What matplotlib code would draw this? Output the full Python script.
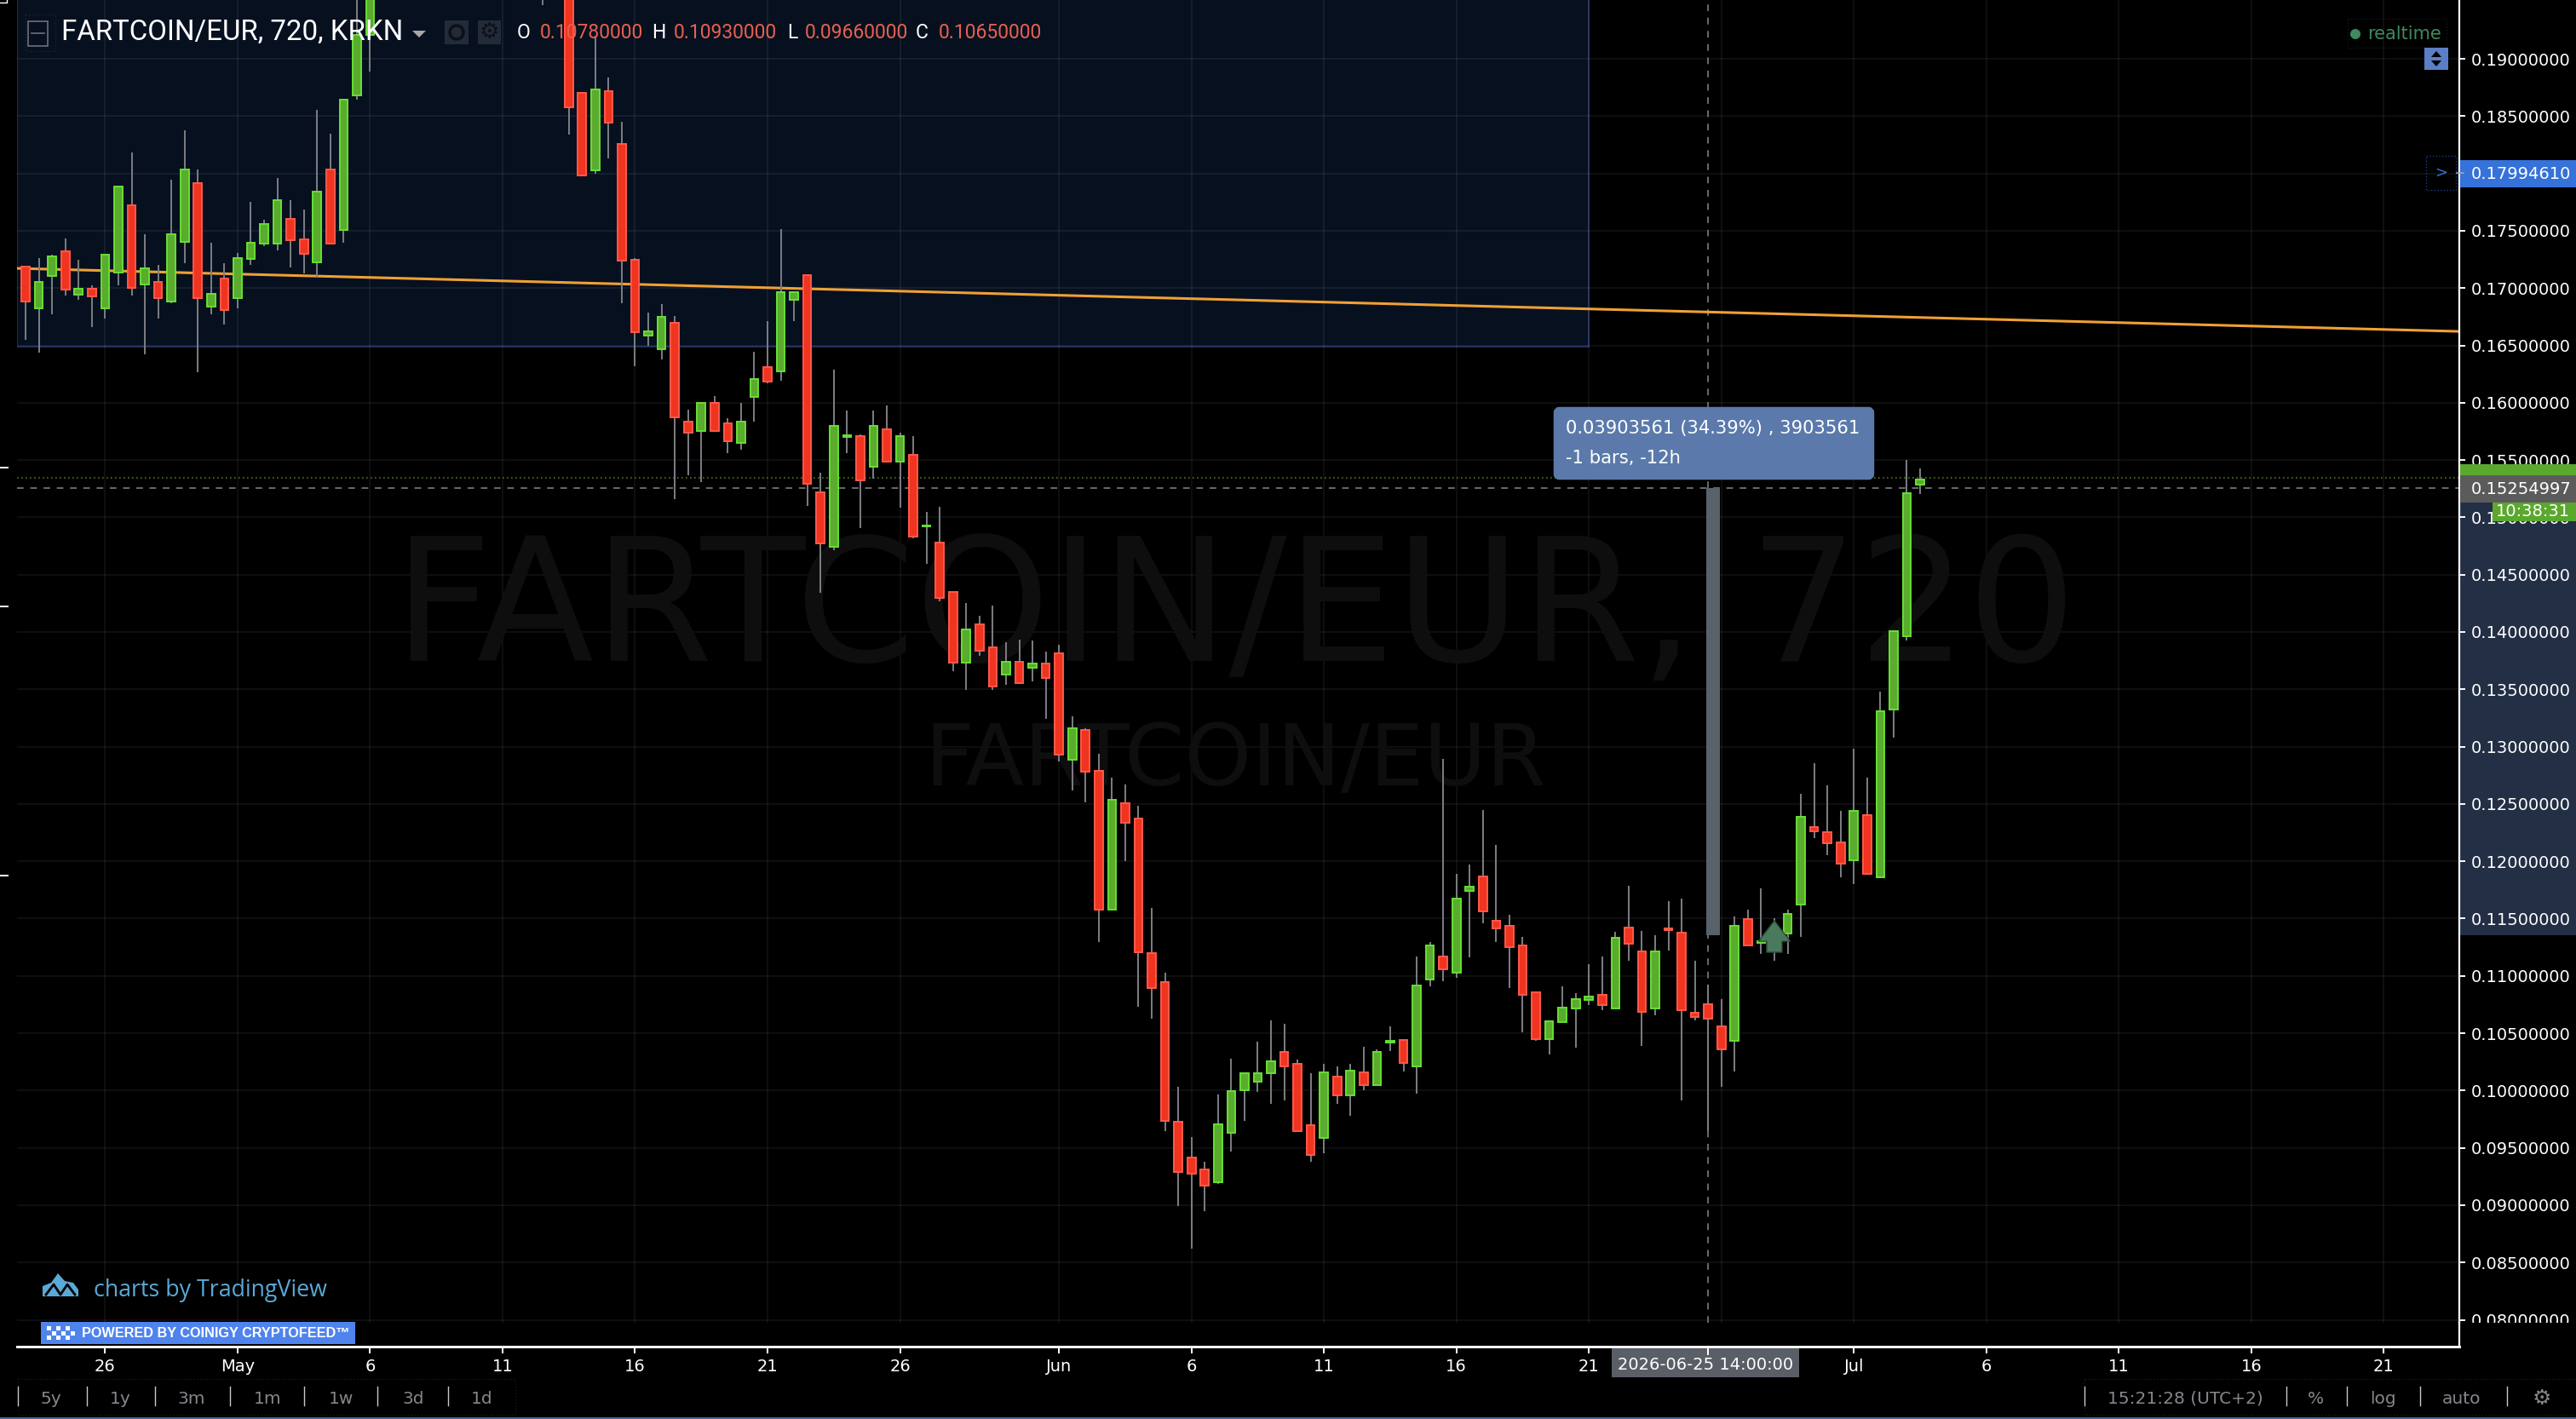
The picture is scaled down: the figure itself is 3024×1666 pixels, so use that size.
import matplotlib
matplotlib.use('Agg')
import numpy as np
import matplotlib.pyplot as plt
from matplotlib.patches import Rectangle, Polygon, FancyBboxPatch

# Bars are 12h apart, counted from 1 May. Bars 11..22 and 24 are above the visible range.
bar_idx = list(range(-16, 11)) + [23] + list(range(25, 128))

opens = [
    .17184, .16823, .17106, .17322, .1694, .16995, .16823, .17137, .17722, .17029,
    .17054, .16881, .17402, .17916, .16838, .17085, .16912, .17254, .17387, .17387,
    .17602, .17427, .17223, .18033, .17507, .1868, .19209,
    .2,
    .197, .18701, .18027, .18717, .18258, .17248, .16586, .16466, .16697, .15835,
    .15752, .15998, .1582, .1565, .16053, .16312, .16272, .16897, .17113, .15216,
    .14742, .15705, .15708, .15443, .15768, .15488, .15543, .14921, .1478, .14348,
    .13732, .14064, .13869, .13628, .13737, .13689, .13723, .13813, .12884, .13144,
    .12789, .11575, .12504, .12372, .11196, .10945, .09727, .09414, .0931, .09201,
    .09632, .10002, .10078, .10149, .1034, .10234, .097, .09587, .10118, .09959,
    .10161, .10048, .10416, .10443, .10214, .1097, .11172, .1103, .11743, .11869,
    .11484, .11437, .11262, .1086, .10449, .10599, .10718, .10791, .10831, .10718,
    .11424, .11215, .10718, .11413, .11378, .10681, .10754, .10562, .10436, .11497,
    .11285, .1125, .11371, .11623, .123, .12256, .12167, .12011, .12406, .11862,
    .13321, .13961, .15284,
]
highs = [
    .17184, .17261, .17291, .1743, .1725, .17026, .17291, .17886, .18184, .17473,
    .17205, .17947, .18378, .18036, .17399, .1722, .17309, .17753, .17593, .17959,
    .17768, .17682, .18553, .18347, .18643, .196, .198,
    .203,
    .198, .18714, .192, .18837, .18449, .17261, .16786, .16863, .16758, .15942,
    .15998, .1606, .15866, .15998, .16444, .16712, .17516, .16965, .17113, .15386,
    .16288, .15931, .15723, .15931, .15976, .15738, .15708, .1505, .15092, .14348,
    .14249, .1414, .1423, .13907, .13936, .13922, .13832, .13888, .13267, .13163,
    .1294, .12732, .1267, .12481, .1159, .1103, .10035, .09594, .09381, .09964,
    .10281, .10153, .10424, .10608, .10582, .10267, .10151, .10234, .10211, .10234,
    .10383, .10356, .10562, .10443, .11172, .11292, .12893, .11888, .11975, .12449,
    .1214, .1153, .11338, .1086, .10605, .10907, .10847, .11099, .11172, .11381,
    .11782, .11394, .11351, .1165, .11676, .1113, .10924, .108, .11517, .11577,
    .11766, .115, .11577, .12585, .12853, .12661, .12439, .12983, .12731, .13477,
    .1401, .155, .15424,
]
lows = [
    .16552, .16435, .16774, .16937, .16894, .1666, .16731, .17026, .16937, .1642,
    .16731, .16866, .1722, .16269, .16774, .16685, .1682, .17205, .17368, .17325,
    .17178, .17131, .17091, .17387, .17399, .18646, .18886,
    .1947,
    .18338, .17984, .17996, .18129, .16866, .16318, .16497, .16377, .15157, .15364,
    .15308, .15752, .15558, .15588, .15838, .16167, .16195, .16715, .15096, .14343,
    .14713, .15562, .14908, .15339, .15488, .15087, .14817, .14595, .14268, .13656,
    .13495, .13794, .13495, .13538, .13552, .13571, .13244, .12869, .12618, .12514,
    .11296, .11575, .12, .10732, .10627, .09646, .08992, .08618, .08945, .09182,
    .09466, .09736, .09987, .09883, .09912, .09647, .09382, .09451, .09886, .09783,
    .10002, .10048, .10343, .10167, .09975, .10907, .10953, .1098, .11162, .11457,
    .11295, .10897, .10509, .10433, .10317, .10599, .10376, .10748, .10698, .10718,
    .1113, .1039, .10655, .11219, .09912, .10608, .09643, .10035, .10167, .11268,
    .11192, .1113, .11192, .11338, .122, .12051, .11859, .11802, .11892, .11862,
    .13078, .13923, .15201,
]
closes = [
    .16885, .17054, .17276, .16989, .16995, .16928, .17291, .17886, .17002, .17174,
    .16912, .1747, .18033, .16912, .16949, .16808, .17261, .17396, .17559, .17768,
    .1742, .17297, .17843, .17387, .18643, .19209, .197,
    .199,
    .18575, .17984, .18732, .18443, .17239, .16614, .16623, .16752, .15872, .15739,
    .15998, .15752, .15662, .15835, .16207, .16183, .16965, .16965, .15296, .14775,
    .15798, .15719, .15325, .15798, .15488, .15708, .14832, .14931, .14296, .13732,
    .14021, .13836, .13523, .13737, .13552, .13727, .13599, .12931, .13158, .12779,
    .11575, .12533, .12334, .11206, .10893, .09736, .09286, .09272, .09167, .09708,
    .09992, .10153, .10153, .10258, .10214, .09647, .09441, .10161, .09959, .10177,
    .10048, .1034, .10436, .1024, .1092, .11262, .11059, .11676, .11779, .11563,
    .11414, .11252, .10837, .10449, .10605, .10725, .10801, .10817, .10748, .11335,
    .11282, .10688, .11215, .11403, .10701, .10642, .10628, .1036, .11437, .11268,
    .11305, .1141, .11544, .12389, .12263, .12157, .11981, .12436, .11892, .13311,
    .1401, .15212, .15329,
]

# Axis ticks
date_ticks = [-10, 0, 10, 20, 30, 40, 50, 62, 72, 82, 92, 102, 112, 122, 132, 142, 152, 162]
date_labels = ['26', 'May', '6', '11', '16', '21', '26', 'Jun', '6', '11', '16', '21', '26',
               'Jul', '6', '11', '16', '21']
price_ticks = [0.08 + 0.005 * i for i in range(23)]

# Drawings and price lines
zone_top, zone_bottom, zone_end = 0.2, 0.16489, 102
trend_x, trend_y = [-16.65, 167.7], [0.17172, 0.16622]
cross_bar, cross_price = 111, 0.15254997
last_price = 0.15347
measure_change = 0.03903561
arrow_bar = 116

fig = plt.figure(figsize=(30.24, 16.66), dpi=100, facecolor='black')
ax = fig.add_axes([20 / 3024, 1 - 1553 / 1666, 2867 / 3024, 1553 / 1666], facecolor='black')
ax.set_xlim(-16.65, 167.7)
ax.set_ylim(0.07974, 0.19513)
ax.set_axisbelow(True)

x = np.array(bar_idx)
o, h, l, c = map(np.array, (opens, highs, lows, closes))
up = c >= o

# Blue zone and the navy part of the price scale, both under the axis artist
ax.add_patch(Rectangle((-16.65, zone_bottom), zone_end + 16.65, zone_top - zone_bottom,
                       fc='#07101f', ec='#1c2a55', lw=1.5, zorder=0.1))
ax.add_patch(Rectangle((1, cross_price - measure_change), 0.06, measure_change,
                       transform=ax.get_yaxis_transform(), fc='#232f45', ec='none',
                       clip_on=False, zorder=0.2))

ax.grid(True, color='#ffffff', alpha=0.06, lw=1.5)

# Watermarks
ax.text(75.3, 0.1416, 'FARTCOIN/EUR, 720', color='#0e0e0e', fontsize=145,
        ha='center', va='center', zorder=0.6)
ax.text(75.3, 0.1287, 'FARTCOIN/EUR', color='#0e0e0e', fontsize=72.3,
        ha='center', va='center', zorder=0.6)

# Price lines and crosshair
ax.axhline(last_price, color='#4c7a1e', lw=1.2, ls=(0, (1, 2)), zorder=1)
ax.axhline(cross_price, color='#6a6a6a', lw=1.4, ls=(0, (4, 4)), zorder=1)
ax.axvline(cross_bar, color='#6a6a6a', lw=1.4, ls=(0, (4, 4)), zorder=1)

ax.plot(trend_x, trend_y, color='#f0a035', lw=2.2, zorder=1.5)

# Candles
ax.vlines(x, l, h, color='#7d7f84', lw=1.4, zorder=2)
ax.bar(x[up], (c - o)[up], bottom=o[up], width=0.62, color='#5aab2e', edgecolor='#66e034',
       lw=1.4, zorder=3)
ax.bar(x[~up], (o - c)[~up], bottom=c[~up], width=0.62, color='#f0341f', edgecolor='#ff5a4c',
       lw=1.4, zorder=3)

# Measure tool bar
ax.add_patch(Rectangle((cross_bar - 0.12, cross_price - measure_change), 1.03, measure_change,
                       fc='#59626a', ec='none', zorder=4))

# Arrow mark on the bar
ax.add_patch(Polygon([(arrow_bar, 0.11481), (arrow_bar + 1.2, 0.11302), (arrow_bar + 0.58, 0.11302),
                      (arrow_bar + 0.58, 0.11206), (arrow_bar - 0.58, 0.11206),
                      (arrow_bar - 0.58, 0.11302), (arrow_bar - 1.2, 0.11302)],
                     fc='#4a7a5c', ec='#2c4a38', lw=1, zorder=4))

# Scales
ax.yaxis.tick_right()
ax.set_yticks(price_ticks)
ax.set_yticklabels(['%.8f' % p for p in price_ticks])
ax.set_xticks(date_ticks)
ax.set_xticklabels(date_labels)
ax.tick_params(axis='y', colors='white', length=5, width=1.4, pad=5, labelsize=14)
ax.tick_params(axis='x', colors='white', length=6, width=1.4, pad=4, labelsize=14)
for name in ['top', 'left']:
    ax.spines[name].set_visible(False)
ax.spines['right'].set_color('white')
ax.spines['right'].set_linewidth(1.6)
ax.spines['bottom'].set_color('white')
ax.spines['bottom'].set_linewidth(2)
ax.spines['bottom'].set_position(('outward', 20))

# Everything below is the chart's UI, laid out in screen pixels
ov = fig.add_axes([0, 0, 1, 1], facecolor='none')
ov.set_xlim(0, 3024)
ov.set_ylim(1666, 0)
ov.axis('off')


def box(x0, y0, x1, y1, fc='none', ec='none', lw=1.0, ls='-'):
    ov.add_patch(Rectangle((x0, y0), x1 - x0, y1 - y0, fc=fc, ec=ec, lw=lw, ls=ls))


def label(x0, y0, s, color='white', size=14, ha='left', **kw):
    ov.text(x0, y0, s, color=color, fontsize=size, ha=ha, va='center', **kw)


# The 0.08 label is cut off by the end of the pane, the axis line goes on
box(2889, 1553, 3024, 1581, fc='black')
ov.plot([2887, 2887], [1553, 1581], color='white', lw=1.6)
ov.plot([20, 2887], [1581, 1581], color='white', lw=2)

# Left edge ticks and corner
for y0 in [549, 712, 1028]:
    ov.plot([0, 9], [y0, y0], color='white', lw=1.4)
ov.plot([0, 8, 8], [3, 3, 0], color='white', lw=1)

# Header
box(30, 17, 65, 60, ec='#20242c', lw=1, ls=':')
box(33, 25, 56, 54, ec='#6d7178', lw=1.2)
ov.plot([37, 52], [39, 39], color='#6d7178', lw=1.2)
label(72, 38, 'FARTCOIN/EUR, 720, KRKN', size=23.8, family='Roboto')
ov.add_patch(Polygon([(484, 36), (500, 36), (492, 44)], fc='#a8a8a8', ec='none'))
box(522, 24, 550, 52, fc='#232a38')
box(561, 24, 588, 52, fc='#232a38')
ov.add_patch(plt.Circle((536, 38), 8, fc='none', ec='#0b101a', lw=2.5))
label(574.5, 38, '\u2699', color='#0b101a', size=19, ha='center', family='DejaVu Sans')
hdr = [(607, 'O', 634, '0.10780000'), (765, 'H', 791, '0.10930000'),
       (924, 'L', 945, '0.09660000'), (1075, 'C', 1102, '0.10650000')]
for x_k, k, x_v, v in hdr:
    label(x_k, 38, k, size=16.5, family='Roboto')
    label(x_v, 38, v, color='#e8604f', size=16.5, family='Roboto')

# Realtime badge and its neighbours
box(2756, 22, 2872, 56, ec='#16181c', lw=1, ls=':')
ov.add_patch(plt.Circle((2765, 40), 6, fc='#3f8a60', ec='none'))
label(2779, 40, 'realtime', color='#3f8a60', size=15)
box(2846, 56, 2874, 82, fc='#5b7fc5')
ov.add_patch(Polygon([(2860, 60), (2866, 67), (2854, 67)], fc='black'))
ov.add_patch(Polygon([(2860, 78), (2866, 71), (2854, 71)], fc='black'))
box(2848, 183, 2883, 223, ec='#1c3b82', lw=1, ls=':')
label(2865.5, 203, '>', color='#3572d9', size=13, ha='center')
ov.plot([2884, 2892], [203, 203], color='#a6a6a6', lw=1.2)

# Price scale labels
box(2888, 188, 3024, 220, fc='#3572d9')
label(2901, 204, '0.17994610')
box(2888, 545, 3024, 560, fc='#5aa82e')
box(2888, 558, 3024, 590, fc='#5b5b5b')
label(2901, 574, '0.15254997')
box(2926, 590, 3024, 612, fc='#5aa82e')
label(3017, 601, '10:38:31', ha='right')

# Measure tooltip
ov.add_patch(FancyBboxPatch((1830, 484), 364, 73, boxstyle='round,pad=0,rounding_size=1',
                            fc='#5b7aab', ec='#5b7aab', lw=9, mutation_aspect=1))
label(1838, 503, '0.03903561 (34.39%) , 3903561', size=15.2)
label(1838, 538, '-1 bars, -12h', size=15.2)

# Crosshair date label
box(1892, 1580, 2112, 1617, fc='#5a5e66')
ov.plot([2005, 2005], [1581, 1590], color='white', lw=1.4)
label(2002, 1603, '2026-06-25 14:00:00', size=14, ha='center')

# TradingView logo
ov.add_patch(Polygon([(50, 1522), (50, 1510), (60, 1506), (68, 1495), (76, 1504), (86, 1506), (92, 1514),
                      (92, 1522)], fc='#5aa9d8', ec='none'))
ov.plot([54, 63, 71, 79, 88], [1520, 1508, 1520, 1508, 1520], color='black', lw=2)
label(110, 1515, 'charts by TradingView', color='#5aa9d8', size=19.3, family='Open Sans')

# Data feed badge
box(48, 1552, 417, 1578, fc='#4f84ee')
for i in range(6):
    for j in range(3):
        if (i + j) % 2 == 0:
            box(55 + i * 5.5, 1557 + j * 5.5, 60 + i * 5.5, 1562 + j * 5.5, fc='white')
label(96, 1565, 'POWERED BY COINIGY CRYPTOFEED\u2122', size=11.7, family='Liberation Sans', weight='bold')

# Bottom toolbars
ranges = ['5y', '1y', '3m', '1m', '1w', '3d', '1d']
range_x = [60, 141.6, 225, 314, 400, 485, 566]
for s, x0 in zip(ranges, range_x):
    label(x0, 1642, s, color='#85878c', size=14.5, ha='center')
for x0 in [21, 102, 182, 270, 357, 443, 526]:
    ov.plot([x0, x0], [1628, 1650], color='#c8c8c8', lw=1)
box(21, 1619, 605, 1661, ec='#16181c', lw=1, ls=':')
label(2565, 1642, '15:21:28 (UTC+2)', color='#85878c', size=14.5, ha='center')
label(2718, 1642, '%', color='#85878c', size=14.5, ha='center')
label(2797, 1642, 'log', color='#85878c', size=14.5, ha='center')
label(2890, 1642, 'auto', color='#85878c', size=14.5, ha='center')
label(2984, 1642, '\u2699', color='#85878c', size=18, ha='center', family='DejaVu Sans')
for x0 in [2447, 2684, 2755, 2841, 2943]:
    ov.plot([x0, x0], [1628, 1650], color='#c8c8c8', lw=1)
box(2447, 1619, 3024, 1661, ec='#16181c', lw=1, ls=':')
box(0, 1664, 3024, 1666, fc='#4a6a9a')

ov.set_xlim(0, 3024)
ov.set_ylim(1666, 0)

fig.savefig('out.png', dpi=100, facecolor='black')
